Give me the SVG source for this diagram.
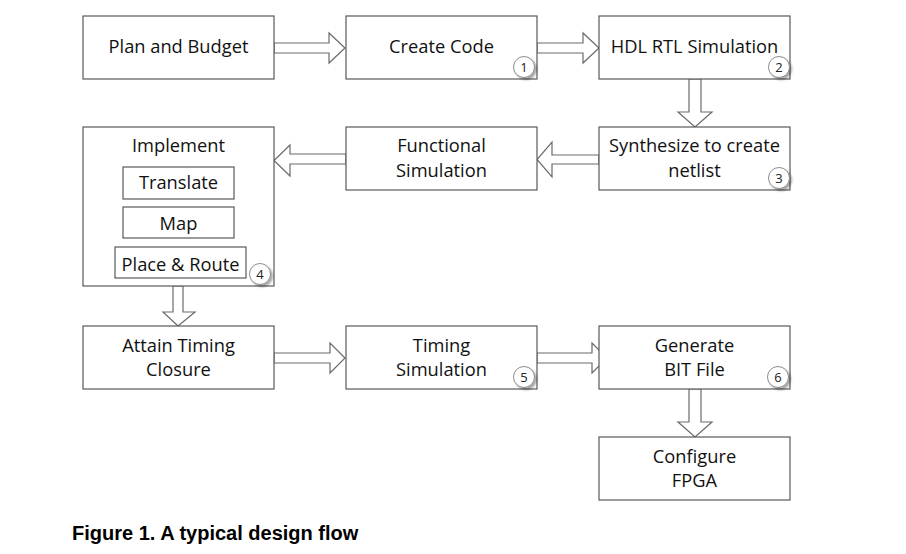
<svg xmlns="http://www.w3.org/2000/svg" width="906" height="554" viewBox="0 0 906 554">
<defs>
<filter id="sh" x="-50%" y="-50%" width="200%" height="200%">
<feGaussianBlur in="SourceAlpha" stdDeviation="1.2"/>
<feOffset dx="1.5" dy="1.5" result="b"/>
<feComponentTransfer><feFuncA type="linear" slope="0.35"/></feComponentTransfer>
<feMerge><feMergeNode/><feMergeNode in="SourceGraphic"/></feMerge>
</filter>
</defs>
<style>
.box{fill:#fff;stroke:#595959;stroke-width:1.2}
.arr{fill:#fff;stroke:#6b6b6b;stroke-width:1.2;stroke-linejoin:miter}
.t{font-family:"Open Sans","Liberation Sans",sans-serif;font-size:18.3px;fill:#111;text-anchor:middle}
.n{font-family:"Open Sans","Liberation Sans",sans-serif;font-size:13px;fill:#222;text-anchor:middle}
.c{fill:#fff;stroke:#8c8c8c;stroke-width:1}
.cap{font-family:"Liberation Sans",Arial,sans-serif;font-size:20px;font-weight:bold;fill:#000}
</style>
<rect width="906" height="554" fill="#fff"/>
<g id="connectors">
<polygon class="arr" points="274,43 329,43 329,33 345,48 329,63 329,53 274,53"/>
<polygon class="arr" points="537,43 583,43 583,33 599,48 583,63 583,53 537,53"/>
<polygon class="arr" points="689,79 701,79 701,112 712,112 695,127 678,112 689,112"/>
<polygon class="arr" points="599,155 552,155 552,142 537,159.5 552,177 552,164 599,164"/>
<polygon class="arr" points="346,154 290,154 290,145 274,160.5 290,176 290,164 346,164"/>
<polygon class="arr" points="173,286 183,286 183,312 195,312 178,326 163,312 173,312"/>
<polygon class="arr" points="274,353 330,353 330,343 345,358 330,373 330,363 274,363"/>
<polygon class="arr" points="537,353 592,353 592,343 607,358 592,373 592,363 537,363"/>
<polygon class="arr" points="689,389 701,389 701,422 712,422 695,437 678,422 689,422"/>
<polygon class="arr" points="174,199 182,199 182,201 194,201 178,207 162,201 174,201"/>
<polygon class="arr" points="174,238 182,238 182,241 194,241 178,247 162,241 174,241"/>
</g>
<g id="plan"><rect class="box" x="83" y="16" width="191" height="63"/><text class="t" x="178.5" y="53">Plan and Budget</text></g>
<g id="create"><rect class="box" x="346" y="16" width="191" height="63"/><text class="t" x="441.5" y="53">Create Code</text>
<g filter="url(#sh)"><circle class="c" cx="524" cy="67" r="10.5"/></g><text class="n" x="524" y="71.5">1</text></g>
<g id="hdl"><rect class="box" x="599" y="16" width="191" height="63"/><text class="t" x="694.5" y="53">HDL RTL Simulation</text>
<g filter="url(#sh)"><circle class="c" cx="779" cy="67" r="10.5"/></g><text class="n" x="779" y="71.5">2</text></g>
<g id="synth"><rect class="box" x="599" y="127" width="191" height="63"/><text class="t" x="694.5" y="152">Synthesize to create</text><text class="t" x="694.5" y="177">netlist</text>
<g filter="url(#sh)"><circle class="c" cx="779" cy="178" r="10.5"/></g><text class="n" x="779" y="182.5">3</text></g>
<g id="func"><rect class="box" x="346" y="127" width="191" height="63"/><text class="t" x="441.5" y="152">Functional</text><text class="t" x="441.5" y="177">Simulation</text></g>
<g id="implement"><rect class="box" x="83" y="127" width="191" height="159"/><text class="t" x="178.5" y="152">Implement</text>
<g filter="url(#sh)"><circle class="c" cx="260" cy="274" r="10.5"/></g><text class="n" x="260" y="278.5">4</text></g>
<g id="translate"><rect class="box" x="123" y="167" width="111" height="32"/><text class="t" x="178.5" y="189">Translate</text></g>
<g id="map"><rect class="box" x="123" y="207" width="111" height="31"/><text class="t" x="178.5" y="230">Map</text></g>
<g id="par"><rect class="box" x="115" y="247" width="131" height="31"/><text class="t" x="180.5" y="271">Place &amp; Route</text></g>
<g id="attain"><rect class="box" x="83" y="326" width="191" height="63"/><text class="t" x="178.5" y="352">Attain Timing</text><text class="t" x="178.5" y="376">Closure</text></g>
<g id="timing"><rect class="box" x="346" y="326" width="191" height="63"/><text class="t" x="441.5" y="352">Timing</text><text class="t" x="441.5" y="376">Simulation</text>
<g filter="url(#sh)"><circle class="c" cx="524" cy="377" r="10.5"/></g><text class="n" x="524" y="381.5">5</text></g>
<g id="generate"><rect class="box" x="599" y="326" width="191" height="63"/><text class="t" x="694.5" y="352">Generate</text><text class="t" x="694.5" y="376">BIT File</text>
<g filter="url(#sh)"><circle class="c" cx="778" cy="377" r="10.5"/></g><text class="n" x="778" y="381.5">6</text></g>
<g id="configure"><rect class="box" x="599" y="437" width="191" height="63"/><text class="t" x="694.5" y="463">Configure</text><text class="t" x="694.5" y="487">FPGA</text></g>
<text class="cap" x="72" y="540">Figure 1. A typical design flow</text>
</svg>
